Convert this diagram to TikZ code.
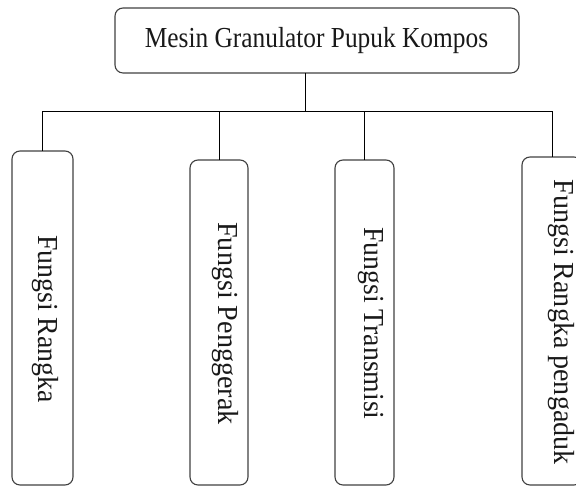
\documentclass[tikz,border=0pt]{standalone}
\usepackage{fontspec}
\setmainfont{Liberation Serif}
\usepackage{graphicx}
\begin{document}
\begin{tikzpicture}[x=1pt,y=1pt,
  boxstyle/.style={draw=black!75, line width=1.1pt, rounded corners=8pt, inner sep=0pt, outer sep=0pt},
  vtext/.style={inner sep=0pt, outer sep=0pt, anchor=base, rotate=-90, font=\fontsize{29}{34}\selectfont, text=black!90},
  conn/.style={draw=black, line width=0.9pt}
]
\useasboundingbox (0,0) rectangle (576,486);
\clip (0,0) rectangle (576,486);
% top box
\node[boxstyle, minimum width=404pt, minimum height=65pt] (top) at (317,445.5) {};
\node[inner sep=0pt, anchor=base, font=\fontsize{29}{34}\selectfont, text=black!90] (toptext) at (316.5,438) {\scalebox{0.875}[1]{Mesin Granulator Pupuk Kompos}};
% child boxes
\node[boxstyle, minimum width=61pt, minimum height=334pt] (b1) at (42.5,168) {};
\node[boxstyle, minimum width=58pt, minimum height=325pt] (b2) at (219,163.5) {};
\node[boxstyle, minimum width=59pt, minimum height=325pt] (b3) at (364.5,163.5) {};
\node[boxstyle, minimum width=60pt, minimum height=328pt] (b4) at (552,165) {};
% texts
\node[vtext] (t1) at (38.3,167) {\scalebox{0.96}[1]{Fungsi Rangka}};
\node[vtext] (t2) at (218.3,162.5) {\scalebox{0.97}[1]{Fungsi Penggerak}};
\node[vtext] (t3) at (364,162.5) {\scalebox{0.955}[1]{Fungsi Transmisi}};
\node[vtext] (t4) at (554,164) {\scalebox{0.967}[1]{Fungsi Rangka pengaduk}};
% connectors
\coordinate (j) at (305,375);
\draw[conn] (j |- top.south) -- (j);
\draw[conn] (b1.north) -- (b1.north |- j) -- (b4.north |- j) -- (b4.north);
\draw[conn] (b2.north) -- (b2.north |- j);
\draw[conn] (b3.north) -- (b3.north |- j);
\end{tikzpicture}
\end{document}
